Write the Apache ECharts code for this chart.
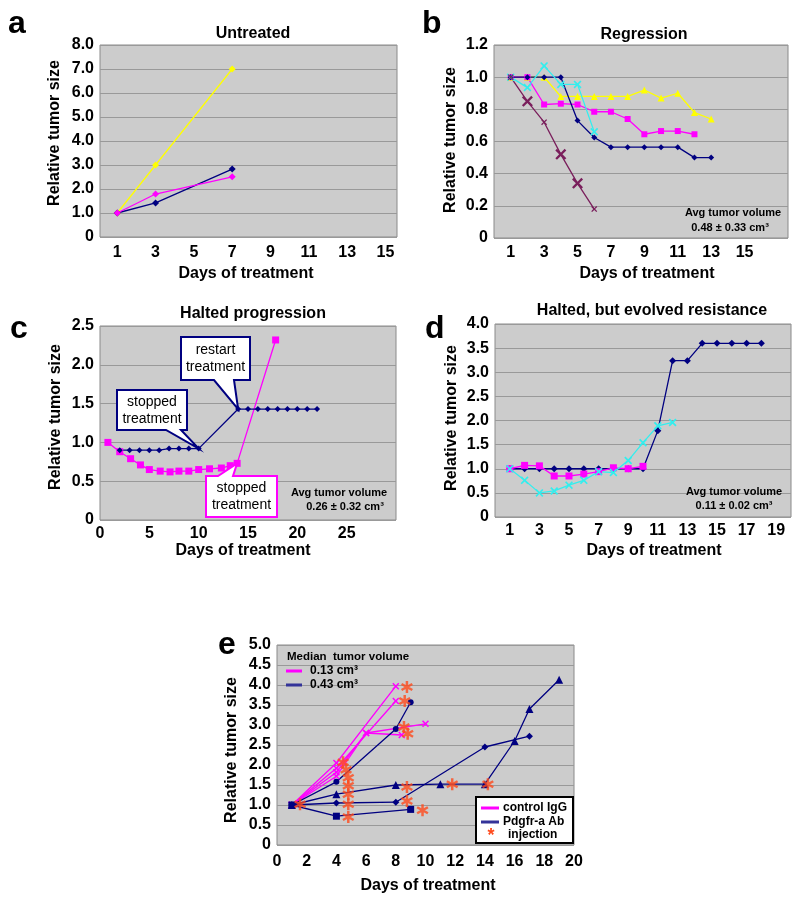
<!DOCTYPE html>
<html><head><meta charset="utf-8">
<script src="https://cdn.jsdelivr.net/npm/echarts@6/dist/echarts.min.js"></script>
<style>html,body{margin:0;padding:0;background:#fff}#c{width:800px;height:905px}</style>
</head><body><div id="c"></div>
<script>
// ---------- DATA ----------
// Panel a: Untreated
const aDays = [1, 3, 7];
const aYellow = [1.0, 3.0, 7.0];
const aNavy = [1.0, 1.42, 2.83];
const aMagenta = [1.0, 1.79, 2.51];
const aTicks = [1, 3, 5, 7, 9, 11, 13, 15];

// Panel b: Regression
const bDays = [1, 2, 3, 4, 5, 6, 7, 8, 9, 10, 11, 12, 13];
const bYellow = [1.0, 1.0, 1.0, 0.88, 0.88, 0.88, 0.88, 0.88, 0.92, 0.87, 0.90, 0.78, 0.74];
const bMagenta = [1.0, 1.0, 0.83, 0.835, 0.83, 0.785, 0.785, 0.74, 0.645, 0.665, 0.665, 0.645];
const bNavy = [1.0, 1.0, 1.0, 1.0, 0.73, 0.625, 0.565, 0.565, 0.565, 0.565, 0.565, 0.5, 0.5];
const bCyan = [1.0, 0.935, 1.07, 0.955, 0.955, 0.66];
const bPurple = [1.0, 0.85, 0.72, 0.52, 0.34, 0.18];
const bTicks = [1, 3, 5, 7, 9, 11, 13, 15];

// Panel c: Halted progression
const cMagX = [0.8, 2, 3.1, 4.1, 5, 6.1, 7.1, 8, 9, 10, 11.1, 12.3, 13.2, 13.9, 17.8];
const cMagY = [1.0, 0.88, 0.79, 0.71, 0.65, 0.63, 0.62, 0.63, 0.63, 0.65, 0.66, 0.67, 0.70, 0.73, 2.32];
const cNavyX = [2, 3, 4, 5, 6, 7, 8, 9, 10, 14, 15, 16, 17, 18, 19, 20, 21, 22];
const cNavyY = [0.90, 0.90, 0.90, 0.90, 0.90, 0.92, 0.92, 0.92, 0.92, 1.43, 1.43, 1.43, 1.43, 1.43, 1.43, 1.43, 1.43, 1.43];
const cTicks = [0, 5, 10, 15, 20, 25];

// Panel d: Halted, but evolved resistance
const dDays = [1, 2, 3, 4, 5, 6, 7, 8, 9, 10, 11, 12, 13, 14, 15, 16, 17, 18];
const dNavy = [1, 1, 1, 1, 1, 1, 1, 1, 1, 1, 1.79, 3.24, 3.24, 3.6, 3.6, 3.6, 3.6, 3.6];
const dMagenta = [1.0, 1.07, 1.06, 0.85, 0.85, 0.89, 0.94, 1.02, 1.0, 1.05];
const dCyan = [1.0, 0.76, 0.5, 0.54, 0.66, 0.76, 0.94, 0.92, 1.17, 1.54, 1.89, 1.96];
const dTicks = [1, 3, 5, 7, 9, 11, 13, 15, 17, 19];

// Panel e: control IgG vs Pdgfr-a Ab
const eCtrl1 = [[1, 1], [4, 2.05], [8, 3.97]];
const eCtrl2 = [[1, 1], [4, 1.92], [8, 3.6]];
const eCtrl3 = [[1, 1], [4, 1.82], [6, 2.8], [10, 3.03]];
const eCtrl4 = [[1, 1], [4, 1.72], [6, 2.8], [8.4, 2.75]];
const eAbSquare = [[1, 1], [4, 0.72], [9, 0.89]];
const eAbDiamond = [[1, 1], [4, 1.05], [8, 1.07], [14, 2.45], [17, 2.72]];
const eAbTriangle = [[1, 1], [4, 1.27], [8, 1.5], [11, 1.52], [14, 1.52], [16, 2.6], [17, 3.4], [19, 4.13]];
const eAbCircle = [[1, 1], [4, 1.58], [8, 2.9], [9, 3.57]];
const eInjection = [[1.55, 1.02], [4.45, 2.07], [4.65, 1.88], [4.8, 1.68], [4.8, 1.48], [4.8, 1.27], [4.8, 1.02], [4.8, 0.7],
  [8.75, 3.95], [8.6, 3.6], [8.55, 2.95], [8.8, 2.78], [8.75, 1.45], [8.75, 1.1], [9.8, 0.87], [11.8, 1.52], [14.2, 1.52]];
const eTicks = [0, 2, 4, 6, 8, 10, 12, 14, 16, 18, 20];

// ---------- STYLE ----------
const FONT = '"Liberation Sans", Arial, Helvetica, sans-serif';
const NAVY = '#000080', MAG = '#ff00ff', YEL = '#ffff00', CYAN = '#33eeee', PURP = '#7a1f5c', STAR = '#ff4a1c';
const XPATH = 'path://M0,1.5L1.5,0L5,3.5L8.5,0L10,1.5L6.5,5L10,8.5L8.5,10L5,6.5L1.5,10L0,8.5L3.5,5Z';
const STARPATH = 'path://M4,0L6,0L6,10L4,10Z M1.17,1.63L9.83,6.63L8.83,8.37L0.17,3.37Z M0.17,6.63L8.83,1.63L9.83,3.37L1.17,8.37Z';

const zip = (xs, ys) => ys.map((y, i) => [xs[i], y]);

const grids = [
  {left: 100, top: 45, width: 297, height: 192},
  {left: 494, top: 45, width: 294, height: 193},
  {left: 100, top: 326, width: 296, height: 194},
  {left: 495, top: 324, width: 296, height: 193},
  {left: 277, top: 645, width: 297, height: 200}
].map(g => Object.assign(g, {show: true, backgroundColor: '#cccccc', borderColor: '#8a8a8a', borderWidth: 1, containLabel: false}));

function xAx(gi, min, max, ticks, margin) {
  return {type: 'value', gridIndex: gi, min: min, max: max,
    axisLine: {show: false}, axisTick: {show: false}, splitLine: {show: false},
    axisLabel: {customValues: ticks, color: '#000', fontWeight: 'bold', fontSize: 16, fontFamily: FONT, margin: margin}};
}
function yAx(gi, max, interval) {
  return {type: 'value', gridIndex: gi, min: 0, max: max, interval: interval,
    axisLine: {show: false}, axisTick: {show: false},
    splitLine: {show: true, lineStyle: {color: '#999999', width: 1}},
    axisLabel: {color: '#000', fontWeight: 'bold', fontSize: 16, fontFamily: FONT, margin: 6,
      formatter: v => v === 0 ? '0' : v.toFixed(1)}};
}
function ln(gi, data, color, symbol, size, extra) {
  return Object.assign({type: 'line', xAxisIndex: gi, yAxisIndex: gi, data: data,
    symbol: symbol, symbolSize: size, showSymbol: true, animation: false,
    lineStyle: {color: color, width: 1.3}, itemStyle: {color: color}}, extra || {});
}

const series = [
  // a
  ln(0, zip(aDays, aYellow), YEL, 'diamond', 7),
  ln(0, zip(aDays, aNavy), NAVY, 'diamond', 7),
  ln(0, zip(aDays, aMagenta), MAG, 'diamond', 7),
  // b
  ln(1, zip(bDays, bYellow), YEL, 'triangle', 7),
  ln(1, zip(bDays, bMagenta), MAG, 'rect', 6),
  ln(1, zip(bDays, bNavy), NAVY, 'diamond', 6),
  ln(1, zip(bDays, bCyan), CYAN, XPATH, 8),
  ln(1, zip(bDays, bPurple), PURP, XPATH, (v, p) => ([1, 3, 4].indexOf(p.dataIndex) >= 0 ? 11 : 6)),
  // c
  ln(2, zip(cMagX, cMagY), MAG, 'rect', 7),
  ln(2, zip(cNavyX.slice(0, 9), cNavyY.slice(0, 9)).concat(zip(cNavyX.slice(9), cNavyY.slice(9))), NAVY, 'diamond', 6),
  // d
  ln(3, zip(dDays, dNavy), NAVY, 'diamond', 7),
  ln(3, zip(dDays, dMagenta), MAG, 'rect', 7),
  ln(3, zip(dDays, dCyan), CYAN, XPATH, 8),
  // e
  ln(4, eCtrl1, MAG, XPATH, 7),
  ln(4, eCtrl2, MAG, XPATH, 7),
  ln(4, eCtrl3, MAG, XPATH, 7),
  ln(4, eCtrl4, MAG, XPATH, 7),
  ln(4, eAbSquare, NAVY, 'rect', 7),
  ln(4, eAbDiamond, NAVY, 'diamond', 7),
  ln(4, eAbTriangle, NAVY, 'triangle', 8),
  ln(4, eAbCircle, NAVY, 'circle', 6),
  {type: 'scatter', xAxisIndex: 4, yAxisIndex: 4, data: eInjection, symbol: STARPATH, symbolSize: 12,
    itemStyle: {color: STAR}, animation: false, z: 5}
];

const titleStyle = {fontFamily: FONT, fontWeight: 'bold', fontSize: 16, color: '#000'};
const option = {
  animation: false,
  backgroundColor: '#fff',
  textStyle: {fontFamily: FONT},
  title: [
    {text: 'Untreated', left: 248, top: 21, textAlign: 'center', textStyle: titleStyle},
    {text: 'Regression', left: 639, top: 22, textAlign: 'center', textStyle: titleStyle},
    {text: 'Halted progression', left: 248, top: 301, textAlign: 'center', textStyle: titleStyle},
    {text: 'Halted, but evolved resistance', left: 647, top: 298, textAlign: 'center', textStyle: titleStyle}
  ],
  grid: grids,
  xAxis: [
    xAx(0, 0.1, 15.6, aTicks, 8),
    xAx(1, 0, 17.6, bTicks, 7),
    xAx(2, 0, 30, cTicks, 6),
    xAx(3, 0, 20, dTicks, 6),
    xAx(4, 0, 20, eTicks, 9)
  ],
  yAxis: [
    yAx(0, 8, 1),
    yAx(1, 1.2, 0.2),
    yAx(2, 2.5, 0.5),
    yAx(3, 4, 0.5),
    yAx(4, 5, 0.5)
  ],
  series: series
};

const chart = echarts.init(document.getElementById('c'), null, {renderer: 'canvas'});
chart.setOption(option);

// ---------- ANNOTATIONS ----------
const G = [];
function txt(x, y, s, o) {
  G.push({type: 'text', x: x, y: y, z: 50, style: Object.assign({text: s, fill: '#000', font: 'bold 16px ' + FONT,
    textAlign: 'center', textVerticalAlign: 'middle'}, o || {})});
}
// panel letters
[['a', 8, 24], ['b', 422, 24], ['c', 10, 329], ['d', 425, 329], ['e', 218, 645]].forEach(l =>
  txt(l[1], l[2], l[0], {font: 'bold 32px ' + FONT, textAlign: 'left'}));
// axis names
function yname(x, y) {
  G.push({type: 'text', x: x, y: y, rotation: Math.PI / 2, z: 50,
    style: {text: 'Relative tumor size', fill: '#000', font: 'bold 16px ' + FONT, textAlign: 'center', textVerticalAlign: 'middle'}});
}
yname(55, 133); yname(451, 140); yname(56, 417); yname(452, 418); yname(232, 750);
txt(246, 274, 'Days of treatment'); txt(647, 274, 'Days of treatment');
txt(243, 551, 'Days of treatment'); txt(654, 551, 'Days of treatment');
txt(428, 886, 'Days of treatment');
// avg tumor volume notes
const small = {font: 'bold 11px ' + FONT};
txt(733, 213, 'Avg tumor volume', small); txt(730, 228, '0.48 \u00b1 0.33 cm\u00b3', small);
txt(339, 493, 'Avg tumor volume', small); txt(345, 507, '0.26 \u00b1 0.32 cm\u00b3', small);
txt(734, 492, 'Avg tumor volume', small); txt(734, 506, '0.11 \u00b1 0.02 cm\u00b3', small);

// callouts in panel c
function callout(box, base, tip, color, lines, onTop) {
  const [x0, y0, x1, y1] = box;
  let pts;
  if (!onTop) {
    pts = [[x0, y0], [x1, y0], [x1, y1], [base[1], y1], tip, [base[0], y1], [x0, y1]];
  } else {
    pts = [[x0, y0], [base[0], y0], tip, [base[1], y0], [x1, y0], [x1, y1], [x0, y1]];
  }
  G.push({type: 'polygon', z: 40, shape: {points: pts}, style: {fill: '#fff', stroke: color, lineWidth: 2}});
  const cx = (x0 + x1) / 2, cy = (y0 + y1) / 2;
  txt(cx, cy - 8, lines[0], {font: '14px ' + FONT});
  txt(cx, cy + 9, lines[1], {font: '14px ' + FONT});
}
const tipRestart = chart.convertToPixel({gridIndex: 2}, [cNavyX[9], cNavyY[9]]);
const tipStopN = chart.convertToPixel({gridIndex: 2}, [cNavyX[8], cNavyY[8]]);
const tipStopM = chart.convertToPixel({gridIndex: 2}, [cMagX[13], cMagY[13]]);
callout([181, 337, 250, 380], [214, 234], tipRestart, NAVY, ['restart', 'treatment'], false);
callout([117, 390, 187, 430], [166, 181], tipStopN, NAVY, ['stopped', 'treatment'], false);
callout([206, 476, 277, 517], [218, 233], tipStopM, MAG, ['stopped', 'treatment'], true);

// panel e legends
txt(287, 657, 'Median  tumor volume', {font: 'bold 11.5px ' + FONT, textAlign: 'left'});
G.push({type: 'line', z: 50, shape: {x1: 286, y1: 671, x2: 302, y2: 671}, style: {stroke: MAG, lineWidth: 3}});
G.push({type: 'line', z: 50, shape: {x1: 286, y1: 685, x2: 302, y2: 685}, style: {stroke: '#333399', lineWidth: 3}});
txt(310, 671, '0.13 cm\u00b3', {font: 'bold 12px ' + FONT, textAlign: 'left'});
txt(310, 685, '0.43 cm\u00b3', {font: 'bold 12px ' + FONT, textAlign: 'left'});

G.push({type: 'rect', z: 45, shape: {x: 476, y: 797, width: 97, height: 46}, style: {fill: '#fff', stroke: '#000', lineWidth: 2}});
G.push({type: 'line', z: 50, shape: {x1: 481, y1: 808, x2: 499, y2: 808}, style: {stroke: MAG, lineWidth: 3}});
G.push({type: 'line', z: 50, shape: {x1: 481, y1: 822, x2: 499, y2: 822}, style: {stroke: '#333399', lineWidth: 3}});
txt(503, 808, 'control IgG', {font: 'bold 12px ' + FONT, textAlign: 'left'});
txt(503, 822, 'Pdgfr-a Ab', {font: 'bold 12px ' + FONT, textAlign: 'left'});
txt(491, 836, '*', {font: 'bold 18px ' + FONT, fill: STAR});
txt(508, 835, 'injection', {font: 'bold 12px ' + FONT, textAlign: 'left'});

chart.setOption({graphic: {elements: G}});
</script>
</body></html>
